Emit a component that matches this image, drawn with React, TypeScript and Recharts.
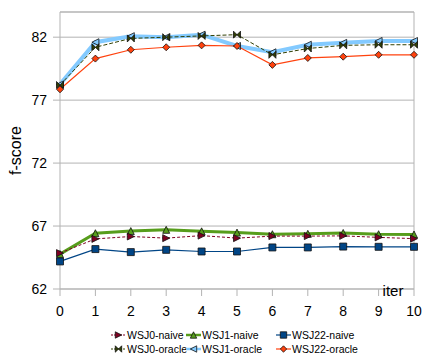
import React from 'react';
import { LineChart, Line, XAxis, YAxis, CartesianGrid, ReferenceLine, Label } from 'recharts';

const iters = [0, 1, 2, 3, 4, 5, 6, 7, 8, 9, 10];
const yTicks = [62, 67, 72, 77, 82];

const wsj0Naive = [64.85, 65.98, 66.17, 66.04, 66.24, 66.04, 66.2, 66.2, 66.22, 66.1, 66.0];
const wsj1Naive = [64.77, 66.43, 66.6, 66.7, 66.58, 66.48, 66.35, 66.38, 66.45, 66.35, 66.33];
const wsj22Naive = [64.19, 65.17, 64.93, 65.11, 64.98, 64.98, 65.3, 65.3, 65.37, 65.35, 65.35];
const wsj0Oracle = [78.2, 81.2, 81.9, 82.0, 82.1, 82.2, 80.6, 81.1, 81.35, 81.4, 81.4];
const wsj1Oracle = [78.25, 81.6, 82.08, 82.0, 82.2, 81.3, 80.8, 81.4, 81.55, 81.7, 81.7];
const wsj22Oracle = [77.86, 80.3, 81.0, 81.2, 81.35, 81.3, 79.8, 80.35, 80.45, 80.6, 80.6];

const data = iters.map((it, i) => ({
  iter: it,
  wsj0Naive: wsj0Naive[i],
  wsj1Naive: wsj1Naive[i],
  wsj22Naive: wsj22Naive[i],
  wsj0Oracle: wsj0Oracle[i],
  wsj1Oracle: wsj1Oracle[i],
  wsj22Oracle: wsj22Oracle[i],
}));

const GRID = '#b3b3b3';
const FONT = '"Liberation Sans", Arial, sans-serif';

type Shape = 'right' | 'up' | 'square' | 'bowtie' | 'left' | 'diamond';

// marker path centered on (cx, cy)
const markerPath = (shape: Shape, cx: number, cy: number, r = 3.5) => {
  switch (shape) {
    case 'right':
      return `M${cx - r},${cy - r}L${cx + r},${cy}L${cx - r},${cy + r}Z`;
    case 'left':
      return `M${cx + r},${cy - r}L${cx - r},${cy}L${cx + r},${cy + r}Z`;
    case 'up':
      return `M${cx},${cy - r}L${cx + r},${cy + r}L${cx - r},${cy + r}Z`;
    case 'square':
      return `M${cx - r},${cy - r}H${cx + r}V${cy + r}H${cx - r}Z`;
    case 'bowtie':
      return `M${cx - r},${cy - r}L${cx},${cy}L${cx - r},${cy + r}ZM${cx + r},${cy - r}L${cx},${cy}L${cx + r},${cy + r}Z`;
    case 'diamond':
    default:
      return `M${cx},${cy - r}L${cx + r},${cy}L${cx},${cy + r}L${cx - r},${cy}Z`;
  }
};

const makeDot = (shape: Shape, fill: string) => (props: any) => {
  const { cx, cy, index } = props;
  if (cx == null || cy == null) return <g key={index} />;
  return <path key={index} d={markerPath(shape, cx, cy)} fill={fill} stroke="#111" strokeWidth={0.8} />;
};

const series = [
  { key: 'wsj1Oracle', name: 'WSJ1-oracle', color: '#83caff', width: 4, dash: undefined, shape: 'left' as Shape },
  { key: 'wsj0Oracle', name: 'WSJ0-oracle', color: '#314004', width: 1, dash: '4 2', shape: 'bowtie' as Shape },
  { key: 'wsj22Oracle', name: 'WSJ22-oracle', color: '#ff420e', width: 1.2, dash: undefined, shape: 'diamond' as Shape },
  { key: 'wsj1Naive', name: 'WSJ1-naive', color: '#579d1c', width: 3, dash: undefined, shape: 'up' as Shape },
  { key: 'wsj0Naive', name: 'WSJ0-naive', color: '#7e0021', width: 1, dash: '3 2', shape: 'right' as Shape },
  { key: 'wsj22Naive', name: 'WSJ22-naive', color: '#004586', width: 1.2, dash: undefined, shape: 'square' as Shape },
];

const legendOrder = ['wsj0Naive', 'wsj1Naive', 'wsj22Naive', 'wsj0Oracle', 'wsj1Oracle', 'wsj22Oracle'];
const legendCols = [111, 186, 276];
const legendRows = [335, 349];

const LegendItem = ({ s }: { s: (typeof series)[number] }) => (
  <span style={{ display: 'inline-flex', alignItems: 'center' }}>
    <svg width={15} height={10} style={{ marginRight: 1 }}>
      <line x1={0} y1={5} x2={15} y2={5} stroke={s.color} strokeWidth={Math.min(s.width, 2.5)} strokeDasharray={s.dash ? '2 1' : undefined} />
      <path d={markerPath(s.shape, 7.5, 5, 3.2)} fill={s.color} stroke="#111" strokeWidth={0.8} />
    </svg>
    <span>{s.name}</span>
  </span>
);

export default function App() {
  return (
    <div style={{ position: 'absolute', left: 0, top: 0, width: 422, height: 356, background: '#fff', fontFamily: FONT }}>
      <LineChart
        width={422}
        height={356}
        data={data}
        margin={{ top: 12, right: 8, left: 0, bottom: 37 }}
        style={{ fontFamily: FONT }}
      >
        <CartesianGrid horizontal vertical={false} stroke={GRID} strokeDasharray="" />
        <ReferenceLine y={84} stroke={GRID} />
        <ReferenceLine x={10} stroke={GRID} />
        <XAxis
          dataKey="iter"
          type="number"
          domain={[0, 10]}
          ticks={iters}
          interval={0}
          height={30}
          stroke={GRID}
          tickSize={7}
          tickMargin={10}
          tick={{ fill: '#000', fontSize: 14 }}
        >
          <Label
            content={(p: any) => {
              const vb = p.viewBox || {};
              return (
                <text x={vb.x + vb.width - 21} y={vb.y + 7} textAnchor="middle" fontSize={15} fill="#000">
                  iter
                </text>
              );
            }}
          />
        </XAxis>
        <YAxis
          type="number"
          domain={[62, 84]}
          ticks={yTicks}
          width={60}
          stroke={GRID}
          tickSize={7}
          tickMargin={6}
          tick={{ fill: '#000', fontSize: 14 }}
        >
          <Label
            content={(p: any) => {
              const vb = p.viewBox || {};
              const x = vb.x + 15;
              const y = vb.y + vb.height / 2;
              return (
                <text x={x} y={y} transform={`rotate(-90, ${x}, ${y})`} textAnchor="middle" dominantBaseline="central" fontSize={16} fill="#000">
                  f-score
                </text>
              );
            }}
          />
        </YAxis>
        {series.map((s) => (
          <Line
            key={s.key}
            type="linear"
            dataKey={s.key}
            name={s.name}
            stroke={s.color}
            strokeWidth={s.width}
            strokeDasharray={s.dash}
            dot={makeDot(s.shape, s.color)}
            activeDot={false}
            isAnimationActive={false}
          />
        ))}
      </LineChart>
      {legendOrder.map((k, i) => {
        const s = series.find((x) => x.key === k)!;
        return (
          <div
            key={k}
            style={{
              position: 'absolute',
              left: legendCols[i % 3],
              top: legendRows[Math.floor(i / 3)] - 7,
              fontSize: 10.5,
              lineHeight: '14px',
              color: '#000',
              whiteSpace: 'nowrap',
            }}
          >
            <LegendItem s={s} />
          </div>
        );
      })}
    </div>
  );
}
